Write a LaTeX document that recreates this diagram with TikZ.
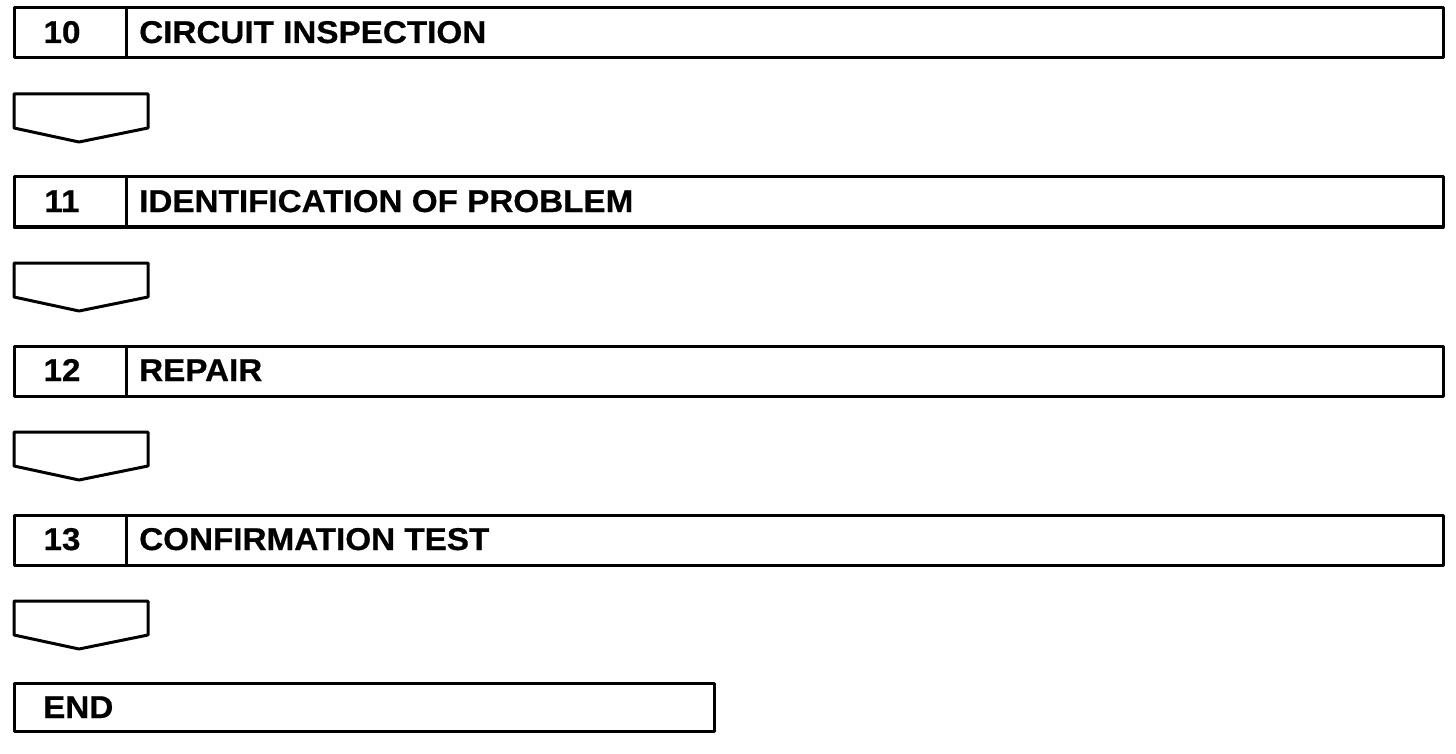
\documentclass[tikz,border=0pt]{standalone}
\usepackage{fontspec}
\setmainfont{Liberation Sans}
\newfontfamily\flowfont{Liberation Sans}[FakeStretch=1.055,FakeBold=0.6,BoldFont={Liberation Sans Bold}]
\begin{document}
\begin{tikzpicture}[x=1pt,y=-1pt,
  frame/.style={draw=black,line width=3pt,line join=round},
  numtxt/.style={anchor=base,inner sep=0pt,font=\flowfont\fontsize{31.5}{36}\selectfont\bfseries},
  steptxt/.style={anchor=base west,inner sep=0pt,font=\flowfont\fontsize{31.5}{36}\selectfont\bfseries},
  flowarrow/.style={draw=black,line width=3pt,line join=round,fill=white}]
\useasboundingbox (0,0) rectangle (1456,754);
% step boxes
\foreach \i/\n/\t in {0/10/CIRCUIT INSPECTION,1/11/IDENTIFICATION OF PROBLEM,2/12/REPAIR,3/13/CONFIRMATION TEST}{
  \pgfmathsetmacro{\top}{8+169*\i}
  \draw[frame] (14,\top) rectangle (1443,\top+50);
  \draw[frame] (126,\top) -- (126,\top+50);
  \node[numtxt] (num\n) at (62,\top+35) {\n};
  \node[steptxt] (txt\n) at (139,\top+35) {\t};
  % down arrow
  \pgfmathsetmacro{\atop}{94+169*\i}
  \draw[flowarrow] (14,\atop) -- (148,\atop) -- (148,\atop+34) -- (79,\atop+48) -- (14,\atop+34) -- cycle;
}
% end box
\draw[frame] (14,683) rectangle (714,731);
\node[steptxt] (endtxt) at (43,718) {END};
\end{tikzpicture}
\end{document}
